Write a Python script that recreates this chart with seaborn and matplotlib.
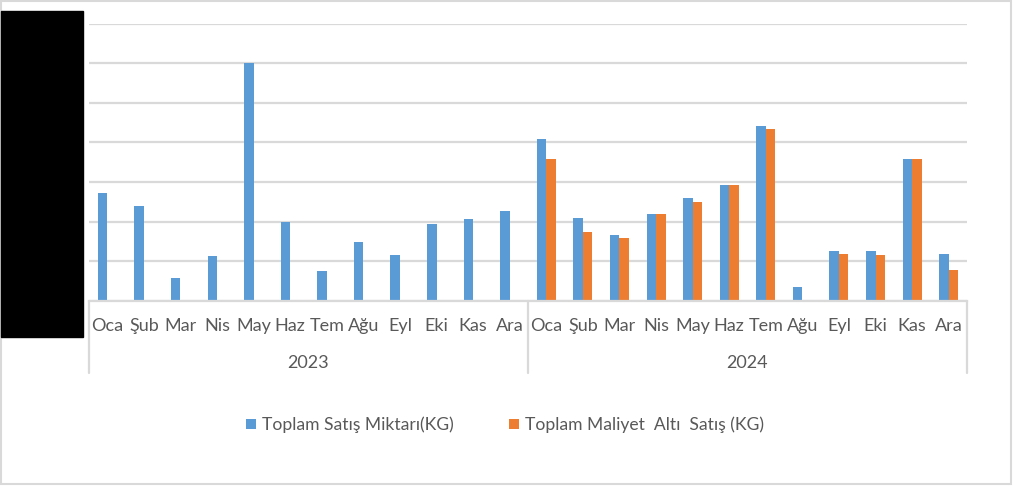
import pandas as pd
import matplotlib.pyplot as plt
import matplotlib.patches as mpatches
import seaborn as sns

# Veriler (y ekseni gizli, değerler kılavuz çizgisi birimi cinsinden)
aylar = ['Oca', 'Şub', 'Mar', 'Nis', 'May', 'Haz', 'Tem', 'Ağu', 'Eyl', 'Eki', 'Kas', 'Ara']
yillar = ['2023', '2024']
satis_2023 = [2.73, 2.40, 0.58, 1.14, 6.00, 2.00, 0.76, 1.49, 1.16, 1.94, 2.07, 2.27]
maliyet_alti_2023 = [0, 0, 0, 0, 0, 0, 0, 0, 0, 0, 0, 0]
satis_2024 = [4.09, 2.10, 1.67, 2.20, 2.60, 2.93, 4.42, 0.35, 1.26, 1.26, 3.59, 1.19]
maliyet_alti_2024 = [3.59, 1.74, 1.59, 2.20, 2.50, 2.93, 4.34, 0.00, 1.19, 1.16, 3.59, 0.78]

seri1 = 'Toplam Satış Miktarı(KG)'
seri2 = 'Toplam Maliyet  Altı  Satış (KG)'

# Uzun formatta tablo
satirlar = []
for yil, s, m in [('2023', satis_2023, maliyet_alti_2023), ('2024', satis_2024, maliyet_alti_2024)]:
    for ay, v1, v2 in zip(aylar, s, m):
        satirlar.append({'donem': yil + '-' + ay, 'seri': seri1, 'deger': v1})
        satirlar.append({'donem': yil + '-' + ay, 'seri': seri2, 'deger': v2})
dados = pd.DataFrame(satirlar)
sira = [y + '-' + a for y in yillar for a in aylar]

sns.set_style('white')
plt.rcParams['font.family'] = ['Lato', 'DejaVu Sans']
gri = '#595959'
cizgi = '#d9d9d9'

fig = plt.figure(figsize=(10.13, 4.86), dpi=100)
ax = fig.add_axes([89 / 1013, 1 - 301 / 486, (967 - 89) / 1013, (301 - 23.5) / 486])

sns.barplot(data=dados, x='donem', y='deger', hue='seri', order=sira,
            hue_order=[seri1, seri2], palette=['#5B9BD5', '#ED7D31'],
            width=0.52, dodge=True, saturation=1, linewidth=0, ax=ax)

ax.set_ylim(0, 7)
ax.set_xlim(-0.5, len(sira) - 0.5)
ax.set_yticks(range(0, 8))
ax.set_yticklabels([])
ax.yaxis.grid(True, color=cizgi, linewidth=1.6)
ax.set_axisbelow(True)
ax.set_xlabel('')
ax.set_ylabel('')
for k in ['top', 'right', 'left']:
    ax.spines[k].set_visible(False)
ax.spines['bottom'].set_color(cizgi)
ax.spines['bottom'].set_linewidth(1.6)

ax.set_xticks(range(len(sira)))
ax.set_xticklabels(aylar * 2, fontsize=13, color=gri)
ax.tick_params(axis='x', length=0, pad=12)
ax.tick_params(axis='y', length=0)

# Çok seviyeli eksen: yıl ayırıcı çizgiler ve yıl etiketleri
alt = -(373 - 301) / (301 - 23.5)
for x in [-0.5, 11.5, 23.5]:
    ax.axvline(x, ymin=alt, ymax=0, color=cizgi, linewidth=1.6, clip_on=False)
for i, yil in enumerate(yillar):
    ax.text(i * 12 + 5.5, -(363 - 301) / (301 - 23.5) * 7, yil, ha='center', va='center',
            fontsize=13, color=gri, clip_on=False)

# Lejant
tutamaclar, etiketler = ax.get_legend_handles_labels()
ax.get_legend().remove()
fig.legend(tutamaclar, etiketler, loc='center', bbox_to_anchor=(505 / 1013, 1 - 425 / 486),
           ncol=2, frameon=False, fontsize=12.6, labelcolor=gri, handlelength=0.55,
           handleheight=0.55, handletextpad=0.35, columnspacing=3.2)

# Dış çerçeve ve gizlenmiş y ekseni alanı
fig.patches.append(mpatches.Rectangle((1 / 1013, 2 / 486), 1010 / 1013, 483 / 486,
                                      transform=fig.transFigure, fill=False,
                                      edgecolor=cizgi, linewidth=1.5))
fig.patches.append(mpatches.Rectangle((1 / 1013, 1 - 337 / 486), 82 / 1013, 326 / 486,
                                      transform=fig.transFigure, color='black'))

fig.savefig('out.png', dpi=100)
